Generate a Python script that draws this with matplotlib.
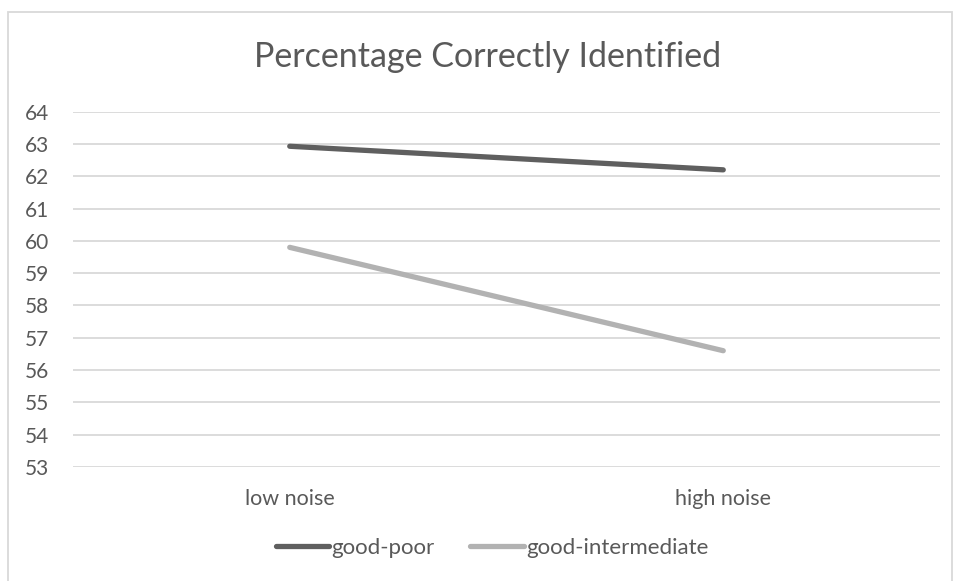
import matplotlib
matplotlib.use("Agg")
import matplotlib.pyplot as plt
from matplotlib.patches import Rectangle

categories = ["low noise", "high noise"]
good_poor = [62.93, 62.2]
good_intermediate = [59.8, 56.6]
yticks = list(range(53, 65))

plt.rcParams['font.family'] = ['Lato', 'DejaVu Sans']
txt = '#595959'

fig = plt.figure(figsize=(9.57, 5.81), dpi=100)
fig.patches.append(Rectangle((8/957, -0.1), (952-8)/957, 1.1 - 12/581, transform=fig.transFigure,
                             fill=False, edgecolor='#d9d9d9', linewidth=1.3))
ax = fig.add_axes([73/957, 1-467/581, (940-73)/957, (467-111.7)/581])

x = list(range(len(categories)))
ax.plot(x, good_poor, color='#5f5f5f', linewidth=3.8, solid_capstyle='round', label='good-poor', zorder=3)
ax.plot(x, good_intermediate, color='#b2b2b2', linewidth=3.8, solid_capstyle='round', label='good-intermediate', zorder=3)

ax.set_xlim(-0.5, 1.5)
ax.set_ylim(53, 64)
ax.set_yticks(yticks)
ax.set_xticks(x)
ax.set_xticklabels(categories)
ax.grid(axis='y', color='#d9d9d9', linewidth=1.3)
ax.set_axisbelow(True)
for s in ax.spines.values():
    s.set_visible(False)
ax.tick_params(axis='both', length=0, labelcolor=txt)
ax.tick_params(axis='y', pad=17, labelsize=15)
ax.tick_params(axis='x', pad=16, labelsize=15.5)

fig.text(488/957, 1-57/581, "Percentage Correctly Identified", ha='center', va='center',
         fontsize=24.5, color=txt)

leg = fig.legend(loc='center', bbox_to_anchor=(492/957, 1-548/581), ncol=2, frameon=False,
                 fontsize=16, handlelength=2.4, handletextpad=0.1, columnspacing=1.6)
for t in leg.get_texts():
    t.set_color(txt)

fig.savefig("out.png", dpi=100)
